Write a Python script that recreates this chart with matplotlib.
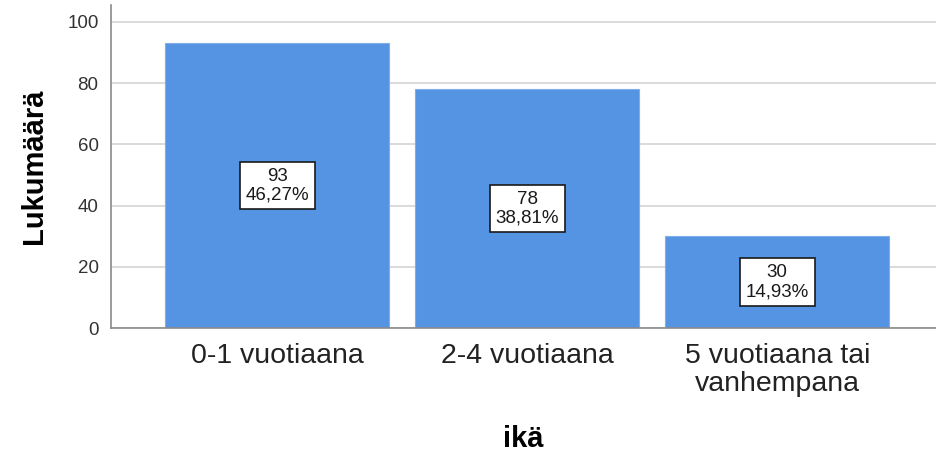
import matplotlib
matplotlib.use("Agg")
import matplotlib.pyplot as plt

plt.rcParams["font.family"] = ["Liberation Sans", "DejaVu Sans"]

categories = ["0-1 vuotiaana", "2-4 vuotiaana", "5 vuotiaana tai\nvanhempana"]
counts = [93, 78, 30]
percents = ["46,27%", "38,81%", "14,93%"]
yticks = [0, 20, 40, 60, 80, 100]

bar_color = "#5594E2"

fig = plt.figure(figsize=(9.37, 4.61), dpi=100)
ax = fig.add_axes([0.1185, 0.2885, 0.8805, 0.7005])

x = range(len(categories))
ax.bar(x, counts, width=0.895, color=bar_color, edgecolor="#7FAEE8",
       linewidth=0.8, zorder=2)

for xi, c, p in zip(x, counts, percents):
    ax.text(xi, c / 2, f"{c}\n{p}", ha="center", va="center", fontsize=13.5,
            color="#1a1a1a", linespacing=1.15, zorder=3,
            bbox=dict(boxstyle="square,pad=0.3", facecolor="white",
                      edgecolor="#1a1a1a", linewidth=1.2))

ax.set_xlim(-0.664, 2.635)
ax.set_ylim(0, 105.5)
ax.set_yticks(yticks)
ax.set_xticks(list(x))
ax.set_xticklabels(categories, fontsize=20.5, color="#222222", linespacing=1.1)
ax.tick_params(axis="y", length=0, pad=9, labelsize=13.5, labelcolor="#333333")
ax.tick_params(axis="x", length=0, pad=11)

ax.grid(axis="y", color="#d4d4d4", linewidth=1.2, zorder=0)
ax.set_axisbelow(True)
for side in ["top", "right"]:
    ax.spines[side].set_visible(False)
for side in ["left", "bottom"]:
    ax.spines[side].set_color("#8a8a8a")
    ax.spines[side].set_linewidth(1.2)

ax.set_ylabel("Lukumäärä", fontsize=21, fontweight="bold", labelpad=14)
ax.set_xlabel("ikä", fontsize=21, fontweight="bold", labelpad=20)

fig.savefig("out.png", dpi=100)
